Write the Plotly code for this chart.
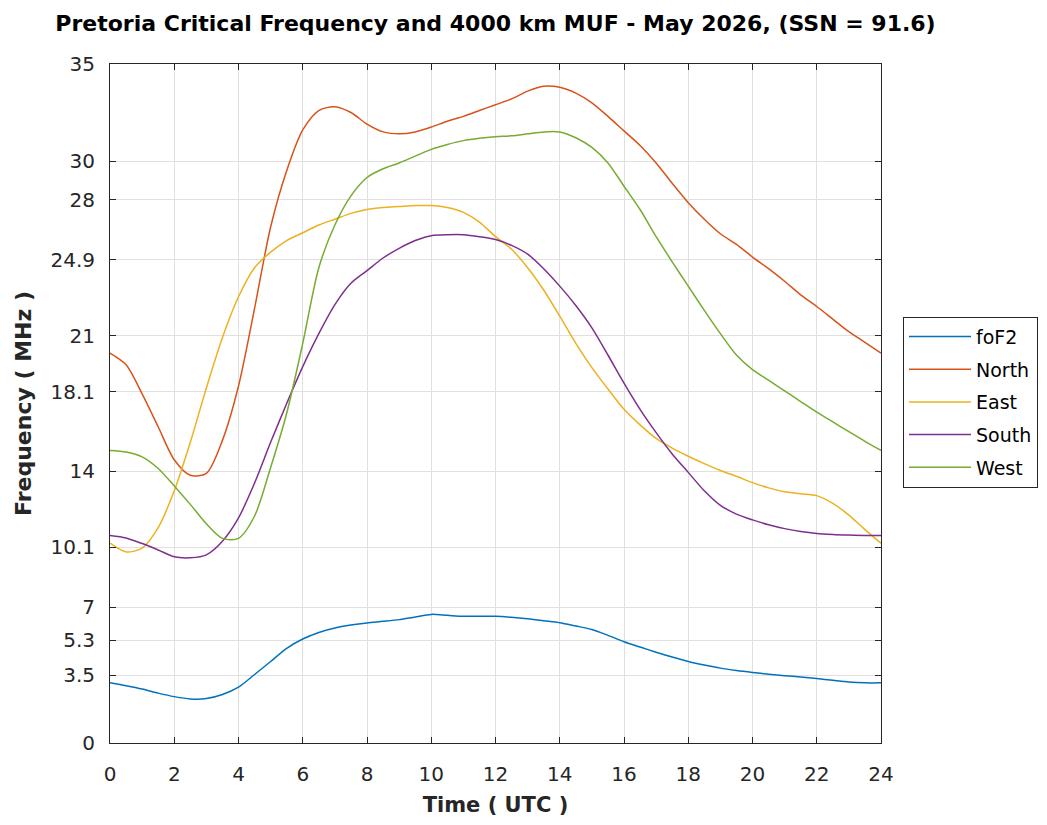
import plotly.graph_objects as go

hours = [i * 0.5 for i in range(49)]

fof2 = [3.1, 2.95, 2.78, 2.57, 2.39, 2.27, 2.29, 2.5, 2.88, 3.53, 4.2, 4.88, 5.36, 5.7, 5.93, 6.08,
        6.19, 6.27, 6.36, 6.5, 6.63, 6.58, 6.53, 6.53, 6.53, 6.48, 6.4, 6.3, 6.2, 6.03, 5.85, 5.55,
        5.22, 4.95, 4.68, 4.43, 4.2, 4.02, 3.86, 3.74, 3.64, 3.55, 3.47, 3.4, 3.32, 3.23, 3.14, 3.1, 3.1]

north = [20.1, 19.5, 18.0, 16.3, 14.6, 13.8, 13.9, 15.6, 18.4, 22.4, 26.6, 29.5, 31.6, 32.6, 32.8, 32.5,
         31.9, 31.5, 31.4, 31.5, 31.75, 32.05, 32.3, 32.6, 32.9, 33.2, 33.6, 33.85, 33.8, 33.5, 33.0, 32.3,
         31.55, 30.8, 29.9, 28.85, 27.85, 27.0, 26.25, 25.7, 25.05, 24.45, 23.8, 23.1, 22.5, 21.85, 21.2, 20.65, 20.1]

east = [10.3, 9.85, 10.05, 11.1, 13.0, 15.5, 18.3, 20.9, 23.0, 24.5, 25.3, 25.9, 26.3, 26.7, 27.0, 27.3,
        27.5, 27.6, 27.65, 27.7, 27.7, 27.6, 27.35, 26.85, 26.1, 25.45, 24.5, 23.35, 22.0, 20.6, 19.35, 18.25,
        17.2, 16.4, 15.7, 15.2, 14.78, 14.4, 14.05, 13.75, 13.42, 13.15, 12.95, 12.85, 12.75, 12.35, 11.75, 11.0, 10.3]

south = [10.7, 10.57, 10.28, 9.95, 9.6, 9.55, 9.7, 10.4, 11.6, 13.4, 15.5, 17.5, 19.4, 21.1, 22.6, 23.7,
         24.35, 25.0, 25.5, 25.9, 26.15, 26.2, 26.2, 26.1, 25.95, 25.65, 25.2, 24.45, 23.55, 22.55, 21.4, 20.0,
         18.55, 17.2, 16.0, 14.9, 13.95, 13.0, 12.25, 11.8, 11.5, 11.25, 11.05, 10.9, 10.8, 10.75, 10.72, 10.7, 10.7]

west = [15.08, 15.0, 14.75, 14.15, 13.25, 12.3, 11.3, 10.55, 10.55, 11.7, 14.2, 17.0, 20.6, 24.5, 26.7, 28.2,
        29.15, 29.6, 29.9, 30.25, 30.6, 30.85, 31.05, 31.17, 31.25, 31.3, 31.4, 31.5, 31.5, 31.2, 30.7, 29.9,
        28.7, 27.5, 26.1, 24.8, 23.55, 22.3, 21.1, 20.0, 19.25, 18.7, 18.15, 17.6, 17.05, 16.55, 16.05, 15.55, 15.08]

series_names = ["foF2", "North", "East", "South", "West"]
series_values = [fof2, north, east, south, west]
colors = ["#0072BD", "#D95319", "#EDB120", "#7E2F8E", "#77AC30"]

y_ticks = [0, 3.5, 5.3, 7, 10.1, 14, 18.1, 21, 24.9, 28, 30, 35]
y_tick_labels = ["0", "3.5", "5.3", "7", "10.1", "14", "18.1", "21", "24.9", "28", "30", "35"]
x_ticks = list(range(0, 25, 2))

FONT = "DejaVu Sans, Liberation Sans, Arial, sans-serif"

fig = go.Figure()
for name, vals, col in zip(series_names, series_values, colors):
    fig.add_trace(go.Scatter(x=hours, y=vals, mode="lines", name=name, legendgroup=name,
                             line=dict(color=col, width=1.5, shape="spline", smoothing=0.8)))

axis_common = dict(showline=True, linecolor="#262626", linewidth=1, mirror="ticks",
                   ticks="inside", ticklen=6, tickcolor="#262626", automargin=False,
                   showgrid=True, gridcolor="#e0e0e0", gridwidth=1, zeroline=False,
                   tickfont=dict(family=FONT, size=20, color="#262626"))

# page has an 8px body margin; plot area in the page spans x 110..881, y 63..743
W, H = 1031, 809
L, T = 102, 56
R = W - 873
B = H - 735

fig.update_layout(
    width=W, height=H,
    margin=dict(l=L, r=R, t=T, b=B, autoexpand=False),
    paper_bgcolor="white", plot_bgcolor="white",
    title=dict(text="<b>Pretoria Critical Frequency and 4000 km MUF - May 2026, (SSN = 91.6)</b>",
               x=(L + 873) / 2 / W, xanchor="center", y=1 - 15 / H, yanchor="middle",
               font=dict(family=FONT, size=22, color="black")),
    xaxis=dict(range=[0, 24], tickvals=x_ticks, ticklabelstandoff=13,
               title=dict(text="<b>Time ( UTC )</b>", standoff=19,
                          font=dict(family=FONT, size=21, color="#262626")),
               **axis_common),
    yaxis=dict(range=[0, 35], tickvals=y_ticks, ticktext=y_tick_labels, ticklabelstandoff=10,
               title=dict(text="<b>Frequency ( MHz )</b>", standoff=12,
                          font=dict(family=FONT, size=22, color="#262626")),
               **axis_common),
    legend=dict(x=(895 - L) / 771, xanchor="left", y=(735 - 308) / 680, yanchor="top",
                bordercolor="#262626", borderwidth=1, bgcolor="white",
                font=dict(family=FONT, size=19, color="black"),
                itemwidth=62, tracegroupgap=5),
)

fig.write_html("out.html")
